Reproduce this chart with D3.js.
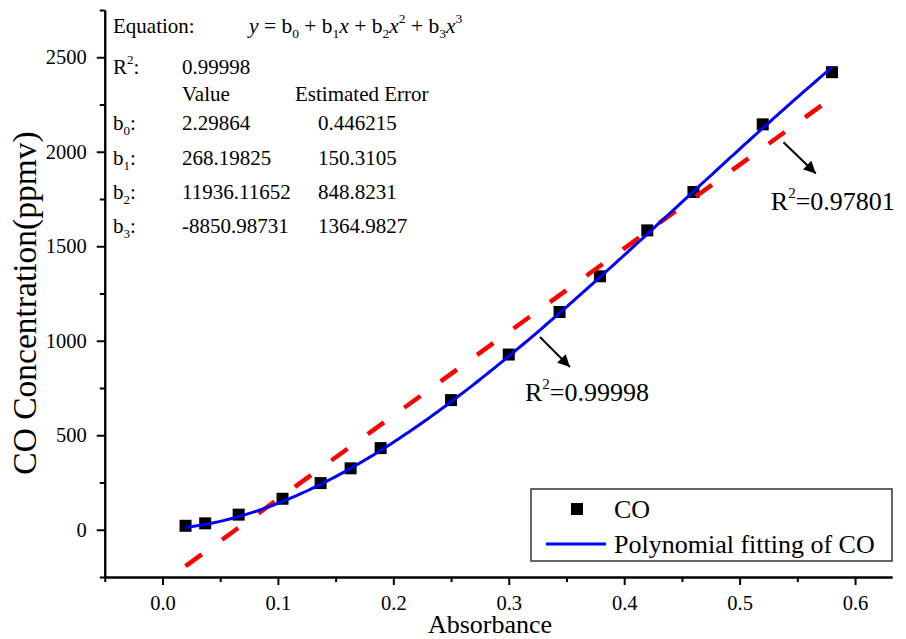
<!DOCTYPE html>
<html>
<head>
<meta charset="utf-8">
<script src="https://cdn.jsdelivr.net/npm/d3@7"></script>
<style>
  html, body { margin: 0; padding: 0; background: #fff; }
  svg { display: block; }
  text { font-family: "Liberation Serif", "Times New Roman", serif; fill: #000; }
</style>
</head>
<body>
<div id="chart"></div>
<script>
// Measured CO calibration points
const absorbance = [0.02, 0.037, 0.066, 0.104, 0.137, 0.163, 0.189, 0.25, 0.30, 0.344, 0.379, 0.42, 0.46, 0.52, 0.58];
const coConc     = [21, 34, 80, 164, 247, 325, 432, 686, 927, 1152, 1341, 1584, 1787, 2145, 2421];

// Cubic fit coefficients b0..b3 and their errors
const coefNames  = ["b0", "b1", "b2", "b3"];
const coefValues = [2.29864, 268.19825, 11936.11652, -8850.98731];
const coefErrors = ["0.446215", "150.3105", "848.8231", "1364.9827"];
const coefLabels = ["2.29864", "268.19825", "11936.11652", "-8850.98731"];
const polyR2 = "0.99998";
const linR2  = "0.97801";

const xTicks = [0, 0.1, 0.2, 0.3, 0.4, 0.5, 0.6];
const yTicks = [0, 500, 1000, 1500, 2000, 2500];

const W = 906, H = 639;
const svg = d3.select("#chart").append("svg").attr("width", W).attr("height", H);

const x = d3.scaleLinear().domain([-0.05, 0.632]).range([104.75, 892]);
const y = d3.scaleLinear().domain([-250, 2750]).range([577, 10]);

// ---- axes ----
const xMinor = d3.range(-0.05, 0.63, 0.1).map(v => +v.toFixed(2));
const yMinor = d3.range(-250, 2751, 500);

const gx = svg.append("g").attr("transform", `translate(0,${y(-250)})`);
gx.call(d3.axisBottom(x).tickValues(xTicks).tickFormat(d3.format(".1f")).tickSize(8).tickSizeOuter(0).tickPadding(10));
gx.append("g").call(d3.axisBottom(x).tickValues(xMinor).tickFormat("").tickSize(5).tickSizeOuter(0));

const gy = svg.append("g").attr("transform", `translate(${x(-0.05)},0)`);
gy.call(d3.axisLeft(y).tickValues(yTicks).tickFormat(d3.format("d")).tickSize(8).tickSizeOuter(0).tickPadding(10));
gy.append("g").call(d3.axisLeft(y).tickValues(yMinor).tickFormat("").tickSize(5).tickSizeOuter(0));

svg.selectAll(".domain").attr("stroke", "#000").attr("stroke-width", 2);
svg.selectAll(".tick line").attr("stroke", "#000").attr("stroke-width", 2);
svg.selectAll(".tick text").attr("font-size", 20.5).attr("font-family", "Liberation Serif, Times New Roman, serif");

// axis titles
svg.append("text").attr("x", 490).attr("y", 633).attr("text-anchor", "middle")
  .attr("font-size", 26).text("Absorbance");
svg.append("text").attr("transform", "translate(36,303) rotate(-90)").attr("text-anchor", "middle")
  .attr("font-size", 33.5).text("CO Concentration(ppmv)");

// ---- data points ----
const pts = absorbance.map((a, i) => ({ x: a, y: coConc[i] }));
svg.append("g").selectAll("path").data(pts).join("path")
  .attr("transform", d => `translate(${x(d.x)},${y(d.y)})`)
  .attr("d", d3.symbol(d3.symbolSquare, 144))
  .attr("fill", "#000");

// ---- linear least-squares fit (red dashed) ----
const mx = d3.mean(absorbance), my = d3.mean(coConc);
const sxy = d3.sum(absorbance, (a, i) => (a - mx) * (coConc[i] - my));
const sxx = d3.sum(absorbance, a => (a - mx) * (a - mx));
const slope = sxy / sxx, intercept = my - slope * mx;
const xLo = d3.min(absorbance), xHi = d3.max(absorbance);
svg.append("path")
  .datum([xLo, xHi])
  .attr("d", d3.line().x(v => x(v)).y(v => y(intercept + slope * v)))
  .attr("fill", "none").attr("stroke", "#ff0000").attr("stroke-width", 4.5)
  .attr("stroke-dasharray", "20,25");

// ---- cubic polynomial fit (blue) ----
const poly = v => coefValues[0] + coefValues[1] * v + coefValues[2] * v * v + coefValues[3] * v * v * v;
const curveX = d3.range(0, 201).map(i => xLo + (xHi - xLo) * i / 200);
svg.append("path")
  .datum(curveX)
  .attr("d", d3.line().x(v => x(v)).y(v => y(poly(v))))
  .attr("fill", "none").attr("stroke", "#0000ff").attr("stroke-width", 3);

// ---- fit parameter table ----
const tbl = svg.append("g").attr("font-size", 21);
tbl.append("text").attr("x", 113).attr("y", 33).text("Equation:");
const eq2 = tbl.append("text").attr("x", 249).attr("y", 33).attr("font-size", 21.5);
const parts = [
  ["y", "i"], [" = b", "n"], ["0", "sub"], [" + b", "n"], ["1", "sub"], ["x", "i"],
  [" + b", "n"], ["2", "sub"], ["x", "i"], ["2", "sup"], [" + b", "n"], ["3", "sub"], ["x", "i"], ["3", "sup"]
];
let shift = 0;
parts.forEach(([t, k]) => {
  const s = eq2.append("tspan").text(t);
  let target = 0;
  if (k === "sub") { s.attr("font-size", 13.5); target = 5; }
  if (k === "sup") { s.attr("font-size", 13.5); target = -10; }
  if (k === "i") s.attr("font-style", "italic");
  s.attr("dy", target - shift);
  shift = target;
});

function labelWithSub(g, xPos, yPos, base, sub, isSup) {
  const t = g.append("text").attr("x", xPos).attr("y", yPos);
  t.append("tspan").text(base);
  t.append("tspan").text(sub).attr("font-size", 13).attr("dy", isSup ? -10 : 5);
  t.append("tspan").text(":").attr("dy", isSup ? 10 : -5);
}
labelWithSub(tbl, 113, 74, "R", "2", true);
tbl.append("text").attr("x", 182).attr("y", 74).text(polyR2);
tbl.append("text").attr("x", 182).attr("y", 101).text("Value");
tbl.append("text").attr("x", 295).attr("y", 101).text("Estimated Error");
const rowY = [130, 165, 199, 233];
coefNames.forEach((n, i) => {
  labelWithSub(tbl, 113, rowY[i], "b", n.slice(1), false);
  tbl.append("text").attr("x", 182).attr("y", rowY[i]).text(coefLabels[i]);
  tbl.append("text").attr("x", 318).attr("y", rowY[i]).text(coefErrors[i]);
});

// ---- R² annotations with arrows ----
svg.append("defs").append("marker")
  .attr("id", "arrowhead").attr("viewBox", "0 0 10 10").attr("refX", 10).attr("refY", 5)
  .attr("markerWidth", 7.5).attr("markerHeight", 6).attr("markerUnits", "strokeWidth")
  .attr("orient", "auto")
  .append("path").attr("d", "M0,0 L10,5 L0,10 z").attr("fill", "#000");

const notes = [
  { from: [0.327, 1020], to: [0.353, 861], at: [0.314, 681], r2: polyR2 },
  { from: [0.538, 2050], to: [0.566, 1885], at: [0.527, 1690], r2: linR2 }
];
notes.forEach(nt => {
  svg.append("line")
    .attr("x1", x(nt.from[0])).attr("y1", y(nt.from[1]))
    .attr("x2", x(nt.to[0])).attr("y2", y(nt.to[1]))
    .attr("stroke", "#000").attr("stroke-width", 2).attr("marker-end", "url(#arrowhead)");
  const t = svg.append("text").attr("x", x(nt.at[0])).attr("y", y(nt.at[1])).attr("font-size", 26);
  t.append("tspan").text("R");
  t.append("tspan").text("2").attr("font-size", 15).attr("dy", -12);
  t.append("tspan").text("=" + nt.r2).attr("dy", 12);
});

// ---- legend ----
const lg = svg.append("g");
lg.append("rect").attr("x", 531).attr("y", 489).attr("width", 361).attr("height", 72)
  .attr("fill", "#fff").attr("stroke", "#333").attr("stroke-width", 1.5);
lg.append("path").attr("transform", "translate(577,509)")
  .attr("d", d3.symbol(d3.symbolSquare, 144)).attr("fill", "#000");
lg.append("text").attr("x", 614).attr("y", 518).attr("font-size", 26).text("CO");
lg.append("line").attr("x1", 546).attr("x2", 606).attr("y1", 544).attr("y2", 544)
  .attr("stroke", "#0000ff").attr("stroke-width", 3);
lg.append("text").attr("x", 614).attr("y", 553).attr("font-size", 26).text("Polynomial fitting of CO");
</script>
</body>
</html>
